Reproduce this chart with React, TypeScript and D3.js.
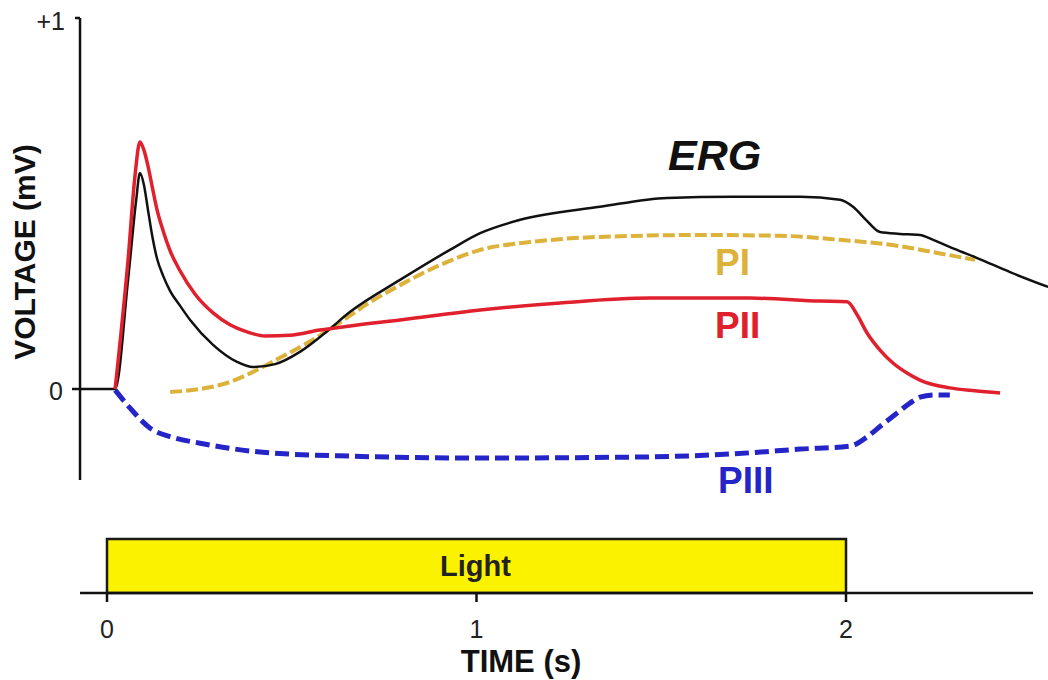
import React from "react";
import * as d3 from "d3";

// ---- data (time in s, voltage in mV) ----
const ergT = [-0.073, 0.022, 0.057, 0.079, 0.089, 0.1, 0.111, 0.122, 0.135, 0.152, 0.171, 0.198, 0.225, 0.287, 0.352, 0.395, 0.455, 0.522, 0.59, 0.658, 0.793, 0.928, 1.01, 1.118, 1.334, 1.516, 1.694, 1.876, 1.984, 2.019, 2.054, 2.092, 2.146, 2.2, 2.236, 2.295, 2.355, 2.444, 2.547];
const ergV = [0, 0, 0.294, 0.509, 0.582, 0.55, 0.482, 0.415, 0.353, 0.305, 0.264, 0.224, 0.186, 0.119, 0.073, 0.059, 0.067, 0.1, 0.151, 0.208, 0.294, 0.375, 0.42, 0.456, 0.491, 0.515, 0.518, 0.518, 0.51, 0.491, 0.456, 0.423, 0.418, 0.415, 0.402, 0.377, 0.353, 0.315, 0.275];

const p2T = [0.022, 0.057, 0.076, 0.089, 0.1, 0.111, 0.122, 0.135, 0.152, 0.171, 0.198, 0.238, 0.287, 0.333, 0.379, 0.428, 0.495, 0.576, 0.658, 0.793, 1.01, 1.226, 1.47, 1.74, 1.93, 2.003, 2.03, 2.057, 2.092, 2.127, 2.165, 2.2, 2.281, 2.349, 2.417];
const p2V = [0, 0.348, 0.577, 0.666, 0.644, 0.601, 0.547, 0.485, 0.426, 0.372, 0.318, 0.256, 0.205, 0.173, 0.154, 0.143, 0.145, 0.159, 0.17, 0.186, 0.213, 0.232, 0.245, 0.245, 0.237, 0.235, 0.2, 0.151, 0.105, 0.07, 0.043, 0.024, 0.003, -0.005, -0.011];

const p1T = [0.171, 0.252, 0.333, 0.395, 0.468, 0.549, 0.631, 0.712, 0.793, 0.901, 1.01, 1.145, 1.334, 1.605, 1.821, 1.984, 2.146, 2.235, 2.349];
const p1V = [-0.008, 0, 0.019, 0.046, 0.084, 0.128, 0.18, 0.234, 0.28, 0.334, 0.375, 0.396, 0.41, 0.415, 0.413, 0.402, 0.385, 0.369, 0.348];

const p3T = [0.022, 0.062, 0.116, 0.184, 0.252, 0.414, 0.658, 1.01, 1.47, 1.74, 1.876, 2.011, 2.057, 2.097, 2.138, 2.173, 2.2, 2.241, 2.281];
const p3V = [-0.003, -0.051, -0.105, -0.132, -0.146, -0.17, -0.181, -0.186, -0.183, -0.172, -0.162, -0.154, -0.129, -0.097, -0.065, -0.038, -0.022, -0.016, -0.016];

const xTicks = [0, 1, 2];
const xTickLabels = ["0", "1", "2"];
const yTicks = [1, 0];
const yTickLabels = ["+1", "0"];
const lightStart = 0;
const lightEnd = 2;

const FONT = "'Liberation Sans', Arial, Helvetica, sans-serif";

export default function App() {
  const x = d3.scaleLinear().domain([0, 2]).range([107, 846]);
  const y = d3.scaleLinear().domain([0, 1]).range([389, 18]);
  const line = d3
    .line<[number, number]>()
    .x((d) => x(d[0]))
    .y((d) => y(d[1]))
    .curve(d3.curveMonotoneX);
  const zip = (a: number[], b: number[]) => a.map((t, i) => [t, b[i]] as [number, number]);

  const axisY0 = x(-0.073);
  const axisYBottom = y(-0.245);
  const baseY = 593;
  const axisXEnd = 1033;

  return (
    <svg
      width={1048}
      height={680}
      style={{ position: "absolute", left: 0, top: 0, background: "#fff" }}
      fontFamily={FONT}
    >
      {/* y axis */}
      <line x1={axisY0} x2={axisY0} y1={y(1)} y2={axisYBottom} stroke="#111" strokeWidth={2.5} />
      {yTicks.map((v, i) => (
        <g key={v}>
          <line x1={axisY0 - (v === 0 ? 8 : 5)} x2={axisY0} y1={y(v)} y2={y(v)} stroke="#111" strokeWidth={2.5} />
          <text
            x={v === 0 ? 63 : 65}
            y={y(v) + (v === 0 ? 11 : 12)}
            textAnchor="end"
            fontSize={25}
            fill="#222"
          >
            {yTickLabels[i]}
          </text>
        </g>
      ))}
      <text
        transform={`translate(35,${252}) rotate(-90)`}
        textAnchor="middle"
        fontSize={30}
        fontWeight="bold"
        fill="#111"
      >
        VOLTAGE (mV)
      </text>

      {/* curves */}
      <path d={line(zip(p3T, p3V)) || ""} fill="none" stroke="#2424c8" strokeWidth={5} strokeDasharray="14 6" />
      <path d={line(zip(p1T, p1V)) || ""} fill="none" stroke="#dcb23a" strokeWidth={4} strokeDasharray="12 4" />
      <path d={line(zip(ergT, ergV)) || ""} fill="none" stroke="#111" strokeWidth={2.5} />
      <path d={line(zip(p2T, p2V)) || ""} fill="none" stroke="#e0202c" strokeWidth={3.5} />

      {/* curve labels */}
      <text x={668} y={170} fontSize={43} fontWeight="bold" fontStyle="italic" fill="#111">ERG</text>
      <text x={715} y={275} fontSize={37} fontWeight="bold" fill="#dcb23a">PI</text>
      <text x={715} y={338} fontSize={37} fontWeight="bold" fill="#e0202c">PII</text>
      <text x={718} y={493} fontSize={37} fontWeight="bold" fill="#2424c8">PIII</text>

      {/* light bar */}
      <rect
        x={x(lightStart)}
        y={539}
        width={x(lightEnd) - x(lightStart)}
        height={baseY - 539}
        fill="#fbf200"
        stroke="#1a1a1a"
        strokeWidth={2.5}
      />
      <text x={(x(lightStart) + x(lightEnd)) / 2 - 1} y={576} textAnchor="middle" fontSize={29} fontWeight="bold" fill="#222">
        Light
      </text>

      {/* time axis */}
      <line x1={axisY0} x2={axisXEnd} y1={baseY} y2={baseY} stroke="#111" strokeWidth={2.5} />
      {xTicks.map((t, i) => (
        <g key={t}>
          <line x1={x(t)} x2={x(t)} y1={baseY} y2={baseY + 9} stroke="#111" strokeWidth={2.5} />
          <text x={x(t)} y={638} textAnchor="middle" fontSize={25} fill="#222">
            {xTickLabels[i]}
          </text>
        </g>
      ))}
      <text x={521} y={672} textAnchor="middle" fontSize={31} fontWeight="bold" fill="#111">
        TIME (s)
      </text>
    </svg>
  );
}
